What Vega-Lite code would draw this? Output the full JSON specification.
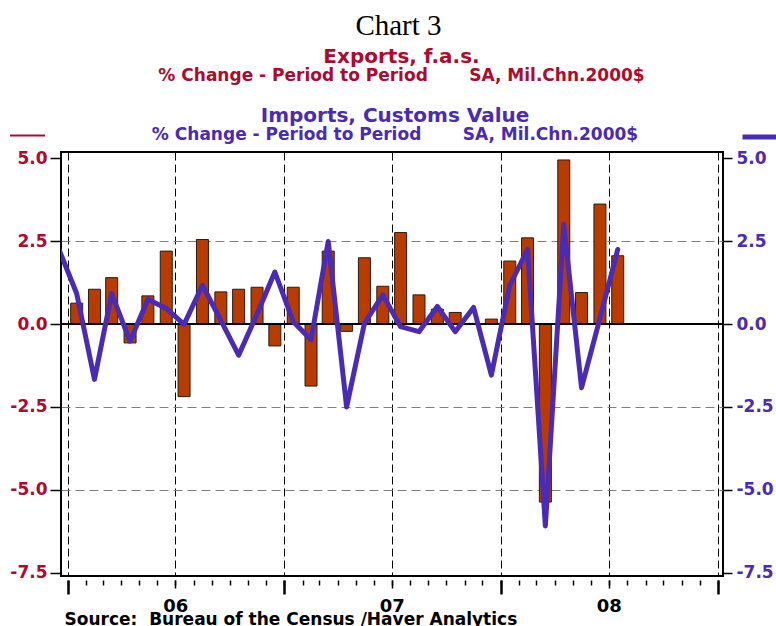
{
  "$schema": "https://vega.github.io/schema/vega-lite/v6.json",
  "background": "white",
  "padding": {"left": 8, "top": 12, "right": 0, "bottom": 0},
  "config": {
    "view": {"stroke": "#000", "strokeWidth": 2},
    "font": "DejaVu Sans"
  },
  "title": {"text": "Chart 3", "font": "Liberation Serif", "fontSize": 29, "fontWeight": "normal", "color": "#000", "anchor": "middle", "offset": 6},
  "datasets": {
    "trade": [
      {"date": "2005-12-16T00:00:00", "exports": null, "imports": 2.3},
      {"date": "2006-01-16T00:00:00", "exports": 0.63, "imports": 0.92},
      {"date": "2006-02-15T00:00:00", "exports": 1.05, "imports": -1.67},
      {"date": "2006-03-16T00:00:00", "exports": 1.40, "imports": 0.92},
      {"date": "2006-04-16T00:00:00", "exports": -0.57, "imports": -0.52},
      {"date": "2006-05-16T00:00:00", "exports": 0.85, "imports": 0.75},
      {"date": "2006-06-16T00:00:00", "exports": 2.20, "imports": 0.47},
      {"date": "2006-07-16T00:00:00", "exports": -2.19, "imports": -0.01},
      {"date": "2006-08-16T00:00:00", "exports": 2.55, "imports": 1.17},
      {"date": "2006-09-16T00:00:00", "exports": 0.97, "imports": 0.11},
      {"date": "2006-10-16T00:00:00", "exports": 1.05, "imports": -0.94},
      {"date": "2006-11-16T00:00:00", "exports": 1.11, "imports": 0.30},
      {"date": "2006-12-16T00:00:00", "exports": -0.66, "imports": 1.57},
      {"date": "2007-01-16T00:00:00", "exports": 1.11, "imports": 0.07},
      {"date": "2007-02-15T00:00:00", "exports": -1.87, "imports": -0.47},
      {"date": "2007-03-16T00:00:00", "exports": 2.20, "imports": 2.49},
      {"date": "2007-04-16T00:00:00", "exports": -0.22, "imports": -2.50},
      {"date": "2007-05-16T00:00:00", "exports": 2.00, "imports": 0.02},
      {"date": "2007-06-16T00:00:00", "exports": 1.14, "imports": 0.88},
      {"date": "2007-07-16T00:00:00", "exports": 2.76, "imports": -0.08},
      {"date": "2007-08-16T00:00:00", "exports": 0.88, "imports": -0.23},
      {"date": "2007-09-16T00:00:00", "exports": 0.45, "imports": 0.53},
      {"date": "2007-10-16T00:00:00", "exports": 0.35, "imports": -0.23},
      {"date": "2007-11-16T00:00:00", "exports": 0.02, "imports": 0.50},
      {"date": "2007-12-16T00:00:00", "exports": 0.15, "imports": -1.54},
      {"date": "2008-01-16T00:00:00", "exports": 1.90, "imports": 1.17},
      {"date": "2008-02-15T00:00:00", "exports": 2.60, "imports": 2.25},
      {"date": "2008-03-16T00:00:00", "exports": -5.37, "imports": -6.09},
      {"date": "2008-04-16T00:00:00", "exports": 4.95, "imports": 3.00},
      {"date": "2008-05-16T00:00:00", "exports": 0.95, "imports": -1.92},
      {"date": "2008-06-16T00:00:00", "exports": 3.62, "imports": 0.17},
      {"date": "2008-07-16T00:00:00", "exports": 2.06, "imports": 2.25}
    ]
  },
  "vconcat": [
    {
      "title": {
        "text": "Exports, f.a.s.",
        "subtitle": "% Change - Period to Period\u00a0\u00a0\u00a0\u00a0\u00a0\u00a0\u00a0SA, Mil.Chn.2000$",
        "color": "#ad0a2f", "subtitleColor": "#ad0a2f",
        "font": "DejaVu Sans", "fontSize": 20, "fontWeight": "bold",
        "subtitleFont": "DejaVu Sans", "subtitleFontSize": 17, "subtitleFontWeight": "bold",
        "anchor": "middle", "subtitlePadding": 1, "offset": 21, "dx": 3
      },
      "vconcat": [
        {
          "title": {
            "text": "Imports, Customs Value",
            "subtitle": "% Change - Period to Period\u00a0\u00a0\u00a0\u00a0\u00a0\u00a0\u00a0SA, Mil.Chn.2000$",
            "color": "#4a2bb5", "subtitleColor": "#4a2bb5",
            "font": "DejaVu Sans", "fontSize": 20, "fontWeight": "bold",
            "subtitleFont": "DejaVu Sans", "subtitleFontSize": 17, "subtitleFontWeight": "bold",
            "anchor": "middle", "subtitlePadding": 1, "offset": -26, "dx": 3
          },
          "width": 662,
          "height": 424,
          "data": {"name": "trade"},
          "layer": [
            {
              "mark": {"type": "bar", "size": 12, "color": "#b83c00", "stroke": "#2b1b10", "strokeWidth": 1},
              "encoding": {
                "x": {
                  "field": "date", "type": "temporal",
                  "scale": {"domain": [{"year": 2005, "month": 12, "date": 29}, {"year": 2009, "month": 1, "date": 1}], "nice": false},
                  "axis": {
                    "orient": "bottom", "tickCount": {"interval": "month", "step": 1},
                    "offset": 4, "domain": false, "grid": false, "labels": false,
                    "tickSize": 5, "tickWidth": 1.5, "tickColor": "#000", "title": null
                  }
                },
                "y": {
                  "field": "exports", "type": "quantitative",
                  "scale": {"domain": [-7.6, 5.19], "nice": false},
                  "axis": {
                    "orient": "left", "values": [5, 2.5, 0, -2.5, -5, -7.5],
                    "labelExpr": "datum.value < 0 ? '-' + format(-datum.value, '.1f') : format(datum.value, '.1f')",
                    "labelColor": "#ad0a2f", "labelFont": "DejaVu Sans", "labelFontSize": 17, "labelFontWeight": "bold",
                    "tickSize": 11, "tickWidth": 1.5, "tickColor": "#000", "labelPadding": 3, "domain": false,
                    "grid": true, "gridColor": "#7f7f7f", "gridDash": [9, 5], "gridWidth": 1.2,
                    "gridOpacity": {"condition": {"test": "datum.value === 2.5 || datum.value === -2.5 || datum.value === -5", "value": 1}, "value": 0},
                    "title": null
                  }
                },
                "y2": {"datum": 0}
              }
            },
            {
              "mark": {"type": "rule", "strokeWidth": 1},
              "encoding": {
                "y": {"datum": 0, "type": "quantitative", "axis": null},
                "color": {
                  "datum": "Exports", "type": "nominal",
                  "scale": {"range": ["#ad0a2f"]},
                  "legend": {"orient": "none", "legendX": -52, "legendY": -35, "title": null, "symbolType": "stroke", "symbolSize": 1225, "symbolStrokeWidth": 2, "labelExpr": "''", "padding": 0}
                }
              }
            },
            {
              "mark": {"type": "rule", "color": "#000", "strokeWidth": 1.5},
              "encoding": {"y": {"datum": 0, "type": "quantitative", "axis": null}}
            },
            {
              "mark": {"type": "line", "strokeWidth": 5, "strokeJoin": "round", "strokeCap": "round", "clip": true},
              "encoding": {
                "x": {
                  "field": "date", "type": "temporal",
                  "scale": {"domain": [{"year": 2005, "month": 12, "date": 29}, {"year": 2009, "month": 1, "date": 1}], "nice": false},
                  "axis": {
                    "orient": "bottom", "tickCount": {"interval": "month", "step": 6},
                    "offset": 4, "domain": false,
                    "grid": true, "gridColor": "#000", "gridDash": [8, 4], "gridWidth": 1,
                    "tickSize": {"condition": {"test": "month(datum.value) === 0", "value": 14}, "value": 8},
                    "tickWidth": {"condition": {"test": "month(datum.value) === 0", "value": 2.5}, "value": 1.5},
                    "tickColor": "#000",
                    "labelExpr": "month(datum.value) === 6 ? timeFormat(datum.value, '%y') : ''",
                    "labelFont": "DejaVu Sans", "labelFontSize": 18, "labelFontWeight": "bold", "labelColor": "#000",
                    "labelPadding": 9, "labelFlush": false, "labelOverlap": false,
                    "title": "Source:\u00a0 Bureau of the Census /Haver Analytics",
                    "titleFont": "DejaVu Sans", "titleFontSize": 17, "titleFontWeight": "bold", "titleColor": "#000",
                    "titleX": 3, "titleY": 44, "titleAlign": "left", "titleBaseline": "alphabetic", "titleAnchor": "start"
                  }
                },
                "y": {
                  "field": "imports", "type": "quantitative",
                  "scale": {"domain": [-7.6, 5.19], "nice": false},
                  "axis": {
                    "orient": "right", "values": [5, 2.5, 0, -2.5, -5, -7.5],
                    "labelExpr": "datum.value < 0 ? '-' + format(-datum.value, '.1f') : format(datum.value, '.1f')",
                    "labelColor": "#4a2bb5", "labelFont": "DejaVu Sans", "labelFontSize": 17, "labelFontWeight": "bold",
                    "tickSize": 9, "tickWidth": 1.5, "tickColor": "#000", "labelPadding": 4, "domain": false,
                    "grid": false, "title": null
                  }
                },
                "color": {
                  "datum": "Imports", "type": "nominal",
                  "scale": {"range": ["#4a2bb5"]},
                  "legend": {"orient": "none", "legendX": 679, "legendY": -35, "title": null, "symbolType": "stroke", "symbolSize": 1225, "symbolStrokeWidth": 5, "labelExpr": "''", "padding": 0}
                }
              }
            }
          ],
          "resolve": {
            "scale": {"color": "independent"},
            "axis": {"x": "independent", "y": "independent"},
            "legend": {"color": "independent"}
          }
        }
      ]
    }
  ]
}
